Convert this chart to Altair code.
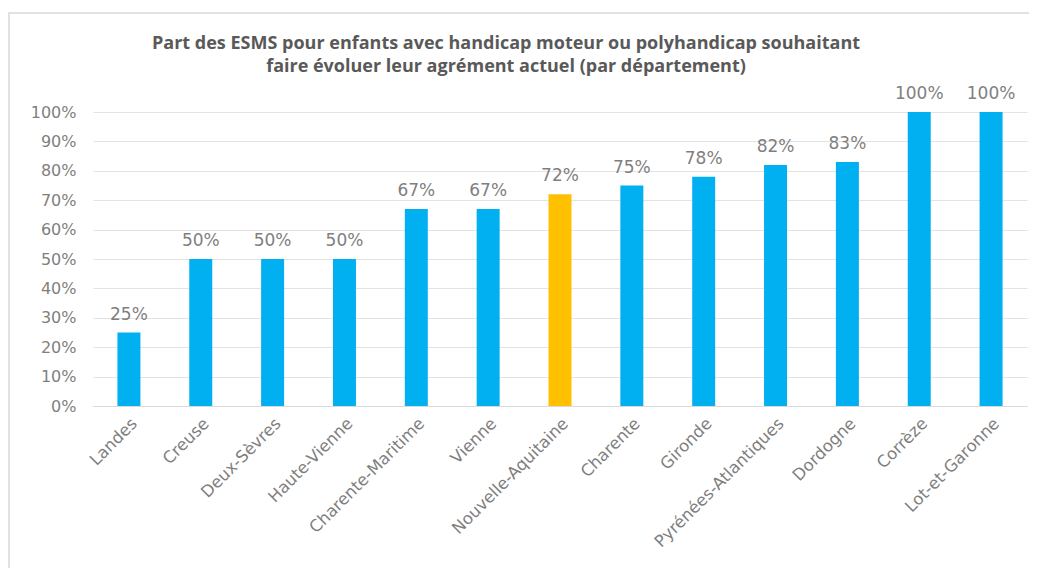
import altair as alt
import pandas as pd

departements = ["Landes", "Creuse", "Deux-Sèvres", "Haute-Vienne", "Charente-Maritime",
                "Vienne", "Nouvelle-Aquitaine", "Charente", "Gironde",
                "Pyrénées-Atlantiques", "Dordogne", "Corrèze", "Lot-et-Garonne"]
parts = [0.25, 0.50, 0.50, 0.50, 0.67, 0.67, 0.72, 0.75, 0.78, 0.82, 0.83, 1.00, 1.00]
groupe = ["dep"] * 6 + ["region"] + ["dep"] * 6
titre = ["Part des ESMS pour enfants avec handicap moteur ou polyhandicap souhaitant",
         "faire évoluer leur agrément actuel (par département)"]
graduations = [i / 10 for i in range(11)]

df = pd.DataFrame({"dep": departements, "part": parts, "groupe": groupe})

W, H = 934, 294
FONT = "DejaVu Sans"
GRIS = "#7F7F7F"

base = alt.Chart(df)

x_axis = alt.Axis(labelAngle=-45, labelFontSize=16.5, labelColor=GRIS,
                  labelFont=FONT, ticks=False, domainColor="#D9D9D9",
                  labelPadding=9)
y_axis = alt.Axis(format=".0%", values=graduations, tickCount=11,
                  labelFontSize=16, labelColor=GRIS, labelFont=FONT,
                  labelOverlap=False, labelFlush=False,
                  ticks=False, domain=False, gridColor="#E3E3E3",
                  labelPadding=17)
x_scale = alt.Scale(paddingInner=0.68, paddingOuter=0.34)
y_scale = alt.Scale(domain=[0, 1])

x = alt.X("dep:N", sort=departements, title=None, scale=x_scale, axis=x_axis)
y = alt.Y("part:Q", title=None, scale=y_scale, axis=y_axis)

bars = base.mark_bar().encode(
    x=x, y=y,
    color=alt.Color("groupe:N", scale=alt.Scale(domain=["dep", "region"],
                                                range=["#00B0F0", "#FFC000"]),
                    legend=None),
)

labels = base.mark_text(dy=-18, fontSize=17, color=GRIS, font=FONT).encode(
    x=x, y=y,
    text=alt.Text("part:Q", format=".0%"),
)

frame = alt.Chart(pd.DataFrame({"a": [0]})).mark_rect(
    fill=None, stroke="#D9D9D9", strokeWidth=1.5, clip=False
).encode(
    x=alt.value(-84), x2=alt.value(W + 80),
    y=alt.value(-99), y2=alt.value(H + 220),
)

title_df = pd.DataFrame({"t": ["\n".join(titre)]})
title = alt.Chart(title_df).mark_text(
    fontSize=18, font="Open Sans", fontWeight="bold", color="#595959",
    align="center", baseline="middle", lineBreak="\n", lineHeight=23, clip=False
).encode(
    x=alt.value(413),
    y=alt.value(-68),
    text="t:N",
)

chart = alt.layer(frame, bars, labels, title).properties(
    width=W, height=H,
    autosize=alt.AutoSizeParams(type="none"),
    padding={"left": 85, "top": 104, "right": 2, "bottom": 162},
).configure(background="white", view=alt.ViewConfig(stroke=None))

chart.save("out.html", embed_options={"renderer": "svg", "actions": False})
